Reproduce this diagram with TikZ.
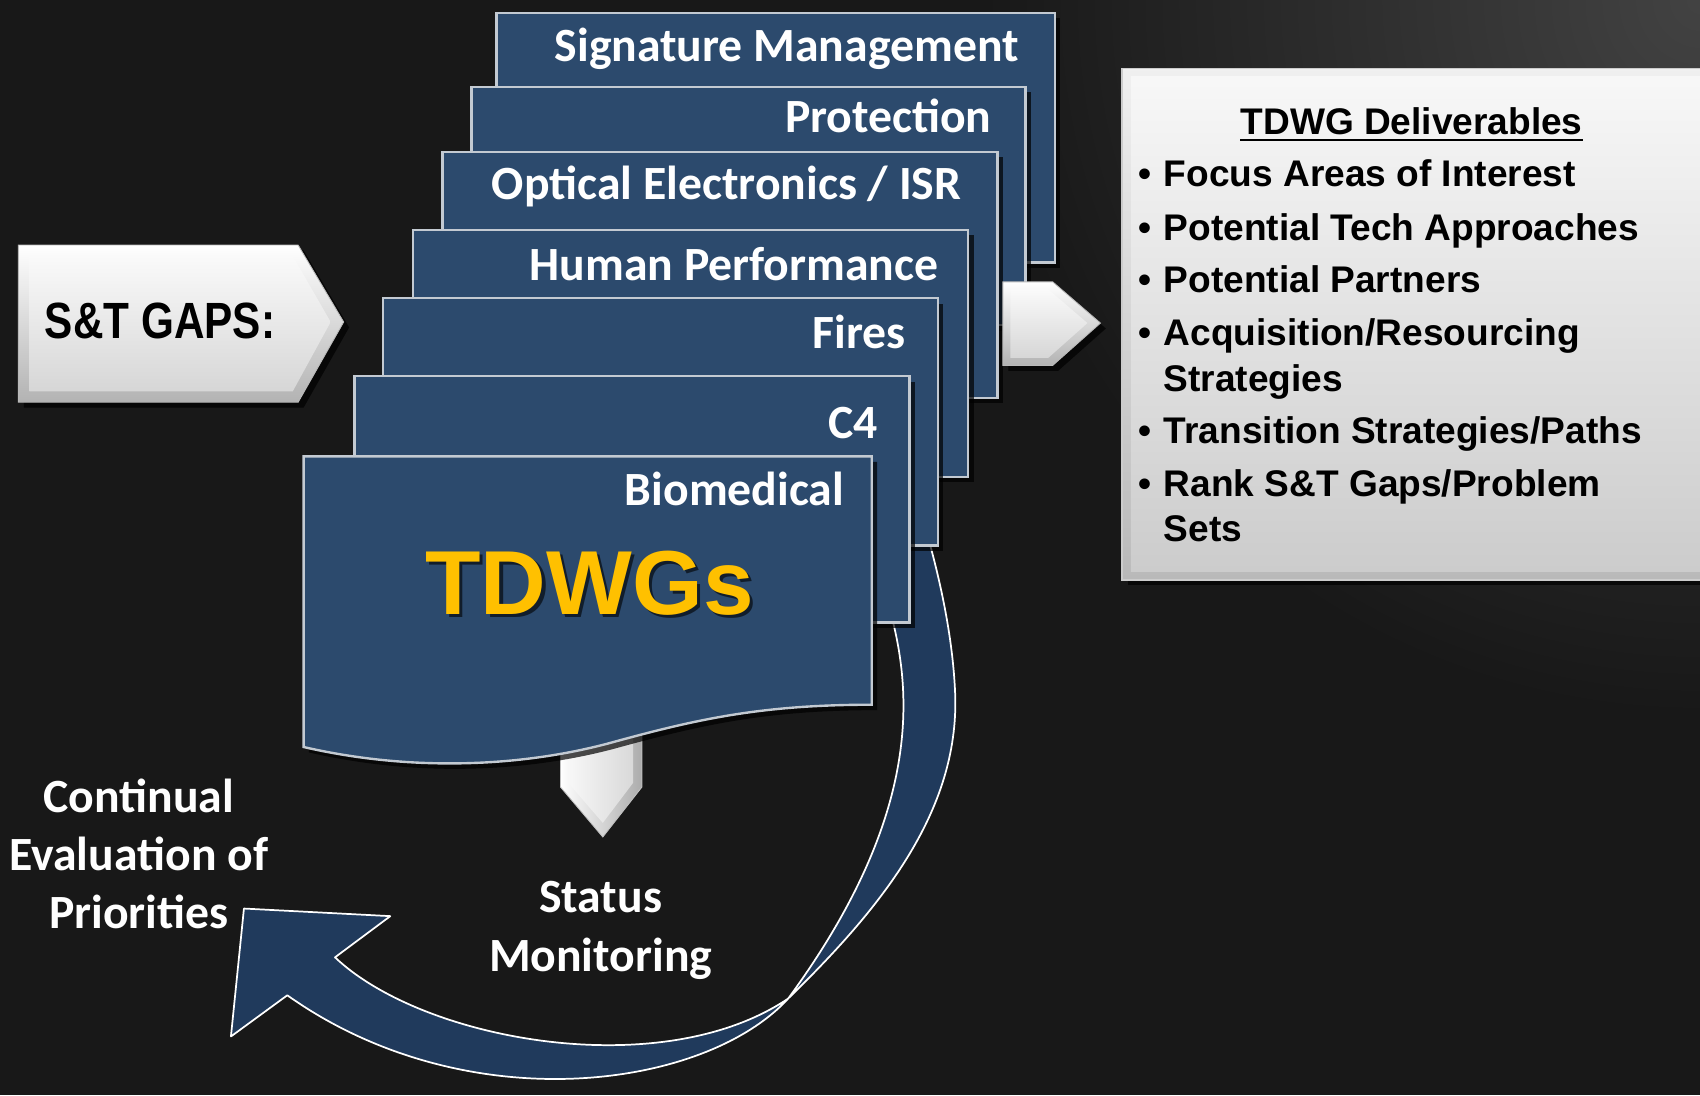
\documentclass[tikz,border=0pt]{standalone}
\usepackage{fontspec}
\setmainfont{Liberation Sans}
\newfontfamily\calfont{Carlito}
\usetikzlibrary{shadows}
\definecolor{bgdark}{HTML}{181818}
\definecolor{boxblue}{HTML}{2C4A6D}
\definecolor{arrowblue}{HTML}{203A5C}
\definecolor{boxedge}{HTML}{C3CAD2}
\definecolor{tdwgyellow}{HTML}{FFC000}
\tikzset{
  darkshadow/.style={drop shadow={shadow xshift=2.5pt, shadow yshift=-2.5pt, fill=black, opacity=0.7}},
  stackbox/.style={fill=boxblue, draw=boxedge, line width=1.1pt, darkshadow},
  band/.style={fill=arrowblue, draw=white, line width=0.8pt, line join=round},
  boxlabel/.style={anchor=base east, inner sep=0pt, text=white,
    font=\calfont\bfseries\fontsize{22}{26}\selectfont},
  whitelabel/.style={anchor=base, inner sep=0pt, text=white,
    font=\calfont\bfseries\fontsize{22}{26}\selectfont},
  delitem/.style={anchor=base west, inner sep=0pt, text=black,
    font=\bfseries\fontsize{17.1}{21}\selectfont},
  bevelout/.style={top color=white, bottom color=gray!60, draw=gray!55, line width=0.4pt},
  bevelin/.style={top color=white!98!black, bottom color=white!84!black},
}
\newcommand{\bul}{\llap{\textbullet\hspace{5.5pt}}}
\begin{document}
\begin{tikzpicture}[x=0.5pt,y=-0.5pt]
\useasboundingbox (0,0) rectangle (1568,1010);
% background
\fill[bgdark] (0,0) rectangle (1568,1010);
\begin{scope}
  \clip (0,0) rectangle (1568,1010);
  \shade[inner color=black!74, outer color=bgdark] (1568,0) circle (330pt);
\end{scope}

% curved arrow: upper band (behind the boxes)
\coordinate (cross) at (727,921);
\path[band] (cross) .. controls (810,840) and (885,750) .. (881,640)
  .. controls (879,590) and (868,540) .. (858,503) -- (850,470)
  -- (815,540) -- (824,575) .. controls (842,650) and (845,760) .. (cross) -- cycle;

% stacked boxes
\path[stackbox] (458,12) rectangle (973,242);
\path[stackbox] (435,80) rectangle (946,300);
\path[stackbox] (408,140) rectangle (920,367);
\path[stackbox] (381,212) rectangle (893,440);
\path[stackbox] (353,275) rectangle (865,503);
\path[stackbox] (327,347) rectangle (839,574);

% down arrow (under Biomedical box)
\path[left color=white, right color=gray!65, draw=gray!50, line width=0.4pt]
  (517,660) -- (592,660) -- (592,726) -- (556,772) -- (517,726) -- cycle;
\path[left color=white!97!black, right color=white!85!black]
  (524,660) -- (584,660) -- (584,722) -- (556,759) -- (524,722) -- cycle;

% front box with wavy bottom
\path[stackbox] (280,421) -- (804,421) -- (804,650)
  .. controls (700,650) and (640,664) .. (560,686)
  .. controls (480,707) and (380,712) .. (280,689) -- cycle;

% curved arrow: lower band and head
\path[band] (cross) .. controls (650,1005) and (430,1035) .. (265,918)
  -- (213,956) -- (225,838) -- (360,845) -- (309,883)
  .. controls (390,960) and (610,1000) .. (cross) -- cycle;

% S&T GAPS arrow
\path[bevelout, darkshadow]
  (17,226) -- (275,226) -- (317,297) -- (275,371) -- (17,371) -- cycle;
\path[bevelin] (27,236) -- (270,236) -- (305,297) -- (270,361) -- (27,361) -- cycle;

% right arrow
\path[bevelout, darkshadow]
  (925,260) -- (971,260) -- (1015,298) -- (971,337) -- (925,337) -- cycle;
\path[bevelin] (932,267) -- (967,267) -- (1003,298) -- (967,330) -- (932,330) -- cycle;

% deliverables box
\path[top color=white!94!black, bottom color=gray!55, draw=gray!40, line width=0.6pt, darkshadow]
  (1035,63) rectangle (1590,535);
\path[top color=white!97!black, bottom color=white!80!black] (1043,71) rectangle (1590,527);

% box labels
\node[boxlabel] (lsig) at (940,57) {Signature Management};
\node[boxlabel] (lprot) at (915,122) {Protection};
\node[boxlabel] (lopt) at (887,184) {Optical Electronics / ISR};
\node[boxlabel] (lhum) at (866,259) {Human Performance};
\node[boxlabel] (lfir) at (836,321) {Fires};
\node[boxlabel] (lc4) at (810,404) {C4};
\node[boxlabel] (lbio) at (779,466) {Biomedical};

% TDWGs
\node[anchor=base west, inner sep=0pt, text=black, opacity=0.6,
  font=\bfseries\fontsize{41.9}{50}\selectfont] (tdwgsh) at (395,570) {TDWGs};
\node[anchor=base west, inner sep=0pt, text=tdwgyellow,
  font=\bfseries\fontsize{41.9}{50}\selectfont] (tdwgs) at (392,567) {TDWGs};

% S&T GAPS text
\node[anchor=base west, inner sep=0pt] (gaps) at (41,312)
  {\scalebox{0.83}[1]{\bfseries\fontsize{23.5}{28}\selectfont S\&T GAPS:}};

% deliverables text
\node[anchor=base, inner sep=0pt, font=\bfseries\fontsize{17.1}{21}\selectfont] (deltitle) at (1302,124) {TDWG Deliverables};
\draw[line width=1.1pt] ([yshift=-2.6pt]deltitle.base west) -- ([yshift=-2.6pt]deltitle.base east);
\node[delitem] (d1) at (1073,172) {\bul Focus Areas of Interest};
\node[delitem] (d2) at (1073,222) {\bul Potential Tech Approaches};
\node[delitem] (d3) at (1073,270) {\bul Potential Partners};
\node[delitem] (d4) at (1073,319) {\bul Acquisition/Resourcing};
\node[delitem] (d4b) at (1073,361) {Strategies};
\node[delitem] (d5) at (1073,409) {\bul Transition Strategies/Paths};
\node[delitem] (d6) at (1073,458) {\bul Rank S\&T Gaps/Problem};
\node[delitem] (d6b) at (1073,499) {Sets};

% bottom labels
\node[whitelabel] (c1) at (128,749) {Continual};
\node[whitelabel] (c2) at (128,803) {Evaluation of};
\node[whitelabel] (c3) at (128,856) {Priorities};
\node[whitelabel] (s1) at (554,842) {Status};
\node[whitelabel] (s2) at (554,896) {Monitoring};
\end{tikzpicture}
\end{document}
